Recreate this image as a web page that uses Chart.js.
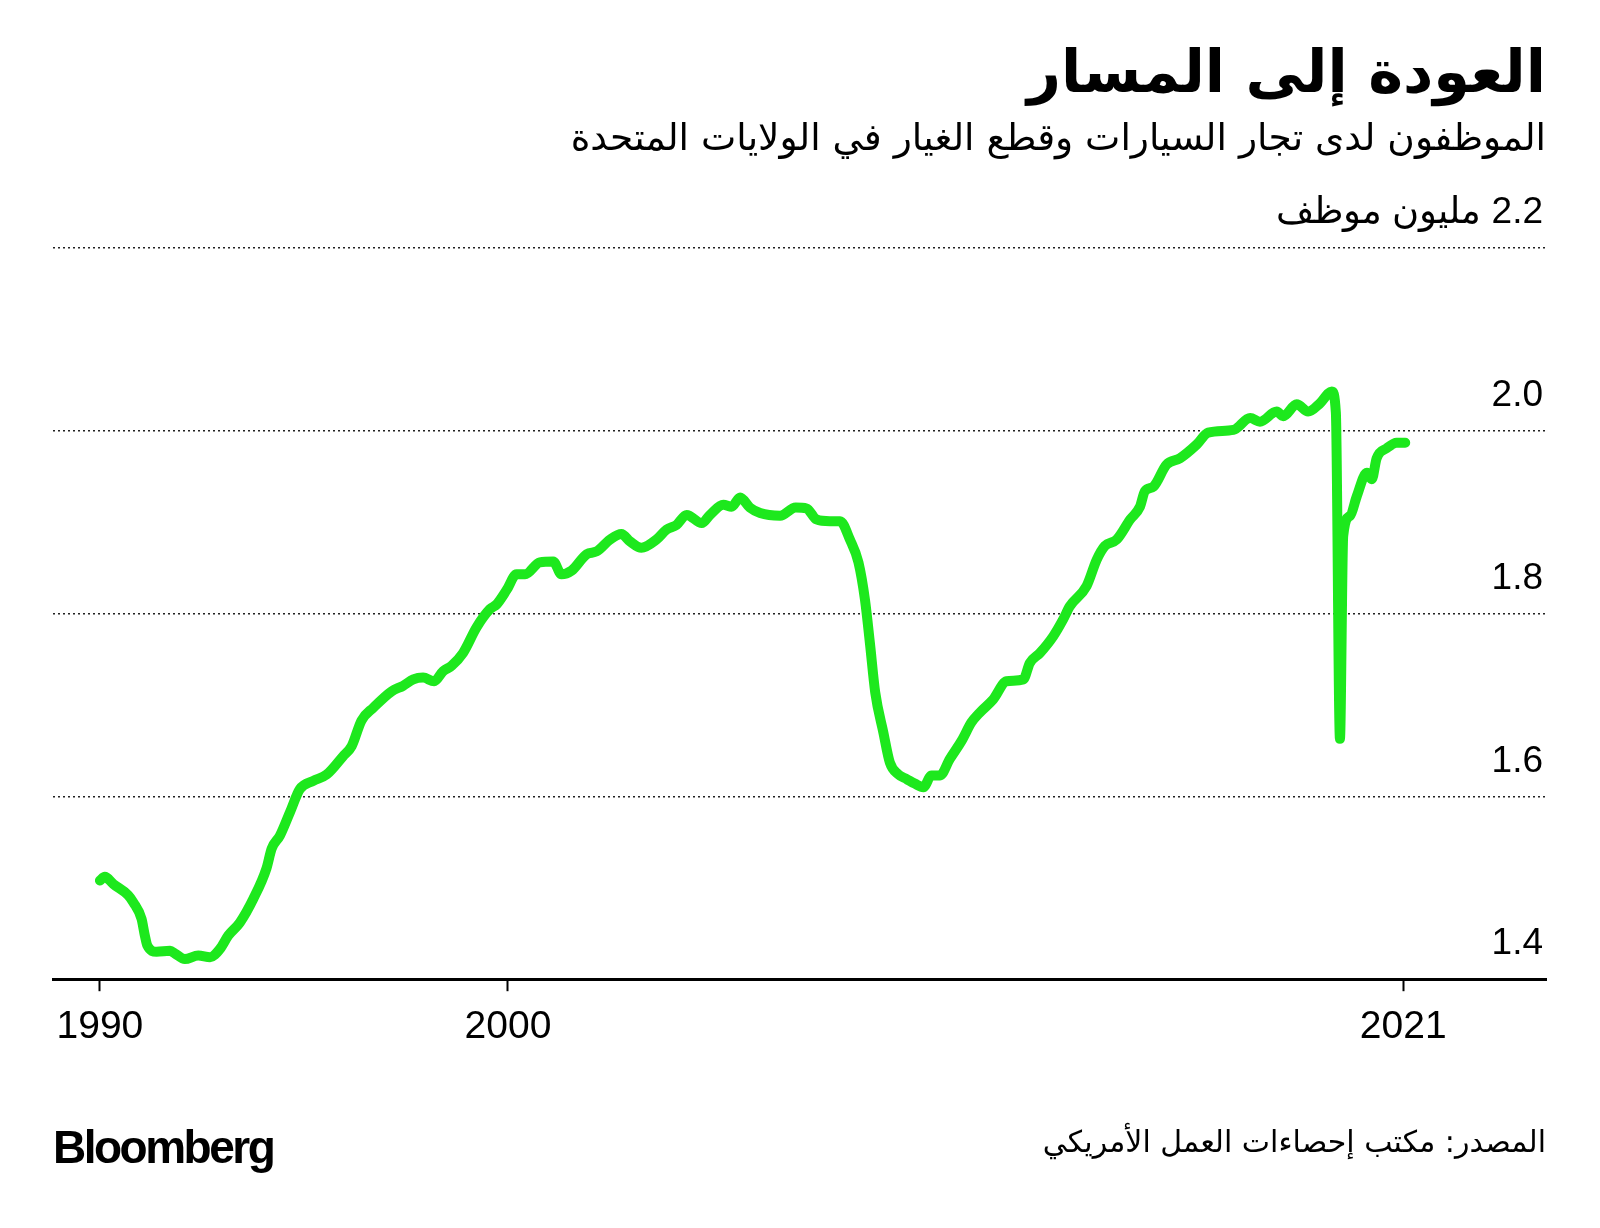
<!DOCTYPE html>
<html lang="ar">
<head>
<meta charset="utf-8">
<script src="https://cdn.jsdelivr.net/npm/chart.js@4/dist/chart.umd.min.js"></script>
<style>
  html, body { margin: 0; padding: 0; background: #fff; }
  #page { position: relative; width: 1600px; height: 1228px; overflow: hidden; }
  #chart { position: absolute; left: 0; top: 0; }
  .txt { position: absolute; direction: rtl; white-space: nowrap; color: #000;
         font-family: "DejaVu Sans", "Liberation Sans", sans-serif; }
  #title { right: 54px; top: 37px; font-size: 59px; font-weight: bold; }
  #subtitle { right: 54px; top: 115px; font-size: 37.5px; }
  #source { right: 54px; top: 1124px; font-size: 30px; }
  #logo { position: absolute; left: 53px; top: 1120px; font-family: "Liberation Sans", Arial, sans-serif;
          font-weight: bold; font-size: 46px; letter-spacing: -2.5px; color: #000; }
</style>
</head>
<body>
<div id="page">
  <canvas id="chart" width="1600" height="1228" dir="rtl"></canvas>
  <div class="txt" id="title">العودة إلى المسار</div>
  <div class="txt" id="subtitle">الموظفون لدى تجار السيارات وقطع الغيار في الولايات المتحدة</div>
  <div class="txt" id="source">المصدر: مكتب إحصاءات العمل الأمريكي</div>
  <div id="logo">Bloomberg</div>
</div>
<script>
// موظفو تجار السيارات وقطع الغيار (مليون) - مقروءة من الرسم
const years = [
  1990.00, 1990.12, 1990.33, 1990.69, 1990.82, 1991.02, 1991.10, 1991.16, 1991.39, 1991.72,
  1991.84, 1992.08, 1992.41, 1992.70, 1992.94, 1993.15, 1993.43, 1993.76, 1994.08, 1994.21,
  1994.41, 1994.66, 1994.90, 1995.23, 1995.56, 1995.96, 1996.17, 1996.41, 1996.70, 1997.15,
  1997.43, 1997.68, 1997.92, 1998.19, 1998.41, 1998.62, 1998.90, 1999.23, 1999.56, 1999.72,
  1999.97, 2000.21, 2000.42, 2000.78, 2001.11, 2001.31, 2001.56, 2001.93, 2002.17, 2002.50,
  2002.78, 2002.99, 2003.27, 2003.64, 2003.89, 2004.13, 2004.38, 2004.75, 2004.95, 2005.28,
  2005.48, 2005.69, 2005.93, 2006.18, 2006.67, 2007.05, 2007.32, 2007.56, 2007.89, 2008.14,
  2008.38, 2008.59, 2008.75, 2008.87, 2009.00, 2009.20, 2009.36, 2009.57, 2009.77, 2009.97,
  2010.18, 2010.38, 2010.59, 2010.83, 2011.12, 2011.36, 2011.57, 2011.89, 2012.22, 2012.63,
  2012.79, 2013.04, 2013.36, 2013.61, 2013.77, 2014.18, 2014.43, 2014.63, 2014.92, 2015.25,
  2015.49, 2015.61, 2015.82, 2016.14, 2016.47, 2016.88, 2017.16, 2017.78, 2018.19, 2018.43,
  2018.84, 2019.00, 2019.33, 2019.61, 2019.90, 2020.19, 2020.29, 2020.39, 2020.47, 2020.64,
  2020.80, 2021.05, 2021.17, 2021.29, 2021.54, 2021.78, 2021.99
];
const employees = [
  1.508, 1.512, 1.504, 1.492, 1.484, 1.466, 1.448, 1.437, 1.430, 1.431,
  1.428, 1.422, 1.426, 1.424, 1.433, 1.448, 1.462, 1.488, 1.521, 1.543,
  1.557, 1.583, 1.608, 1.617, 1.624, 1.644, 1.655, 1.683, 1.697, 1.715,
  1.721, 1.728, 1.730, 1.726, 1.737, 1.743, 1.757, 1.785, 1.805, 1.810,
  1.826, 1.843, 1.843, 1.856, 1.857, 1.843, 1.847, 1.865, 1.868, 1.881,
  1.887, 1.879, 1.872, 1.881, 1.892, 1.897, 1.908, 1.899, 1.908, 1.919,
  1.917, 1.927, 1.916, 1.910, 1.907, 1.916, 1.915, 1.903, 1.901, 1.901,
  1.881, 1.856, 1.815, 1.768, 1.714, 1.670, 1.637, 1.624, 1.619, 1.614,
  1.610, 1.623, 1.623, 1.641, 1.661, 1.681, 1.692, 1.706, 1.726, 1.728,
  1.746, 1.757, 1.775, 1.794, 1.808, 1.830, 1.859, 1.874, 1.881, 1.903,
  1.917, 1.934, 1.939, 1.963, 1.970, 1.985, 1.998, 2.001, 2.014, 2.010,
  2.021, 2.016, 2.029, 2.021, 2.030, 2.043, 2.020, 1.663, 1.885, 1.907,
  1.928, 1.954, 1.947, 1.970, 1.981, 1.987, 1.987
];

const xTickValues = [1990, 2000, 2021.94];
const xTickLabels = ['1990', '2000', '2021'];
const yTicks = [1.4, 1.6, 1.8, 2.0, 2.2];
const unitLabel = 'مليون موظف';

const points = years.map((y, i) => ({ x: y, y: employees[i] }));

const ctx = document.getElementById('chart').getContext('2d');
new Chart(ctx, {
  type: 'line',
  data: {
    datasets: [{
      data: points,
      borderColor: '#1de81d',
      borderWidth: 10,
      borderCapStyle: 'round',
      borderJoinStyle: 'round',
      pointRadius: 0,
      cubicInterpolationMode: 'monotone',
      fill: false
    }]
  },
  options: {
    responsive: false,
    animation: false,
    layout: { padding: { left: 53, right: 54, top: 248, bottom: 164 } },
    plugins: { legend: { display: false }, tooltip: { enabled: false } },
    scales: {
      x: {
        type: 'linear',
        min: 1988.85,
        max: 2025.44,
        afterBuildTicks: axis => { axis.ticks = xTickValues.map(v => ({ value: v })); },
        ticks: {
          autoSkip: false,
          maxRotation: 0,
          padding: 13,
          color: '#000',
          font: { family: 'Liberation Sans', size: 39 },
          callback: (v, i) => xTickLabels[i]
        },
        grid: { drawOnChartArea: false, drawTicks: true, tickLength: 12, tickWidth: 2, tickColor: '#000' },
        border: { display: true, color: '#000', width: 3 }
      },
      y: {
        position: 'right',
        min: 1.4,
        max: 2.2,
        afterBuildTicks: axis => { axis.ticks = yTicks.map(v => ({ value: v })); },
        ticks: {
          mirror: true,
          padding: -3,
          labelOffset: -35,
          color: '#000',
          font: { family: 'Liberation Sans', size: 37 },
          callback: v => v === 2.2 ? v.toFixed(1) + ' ' + unitLabel : v.toFixed(1)
        },
        grid: {
          drawTicks: false,
          color: ctx => ctx.tick && ctx.tick.value === 1.4 ? 'rgba(0,0,0,0)' : '#222',
          lineWidth: 1.5
        },
        border: { display: false, dash: [2, 3] }
      }
    }
  }
});
</script>
</body>
</html>
